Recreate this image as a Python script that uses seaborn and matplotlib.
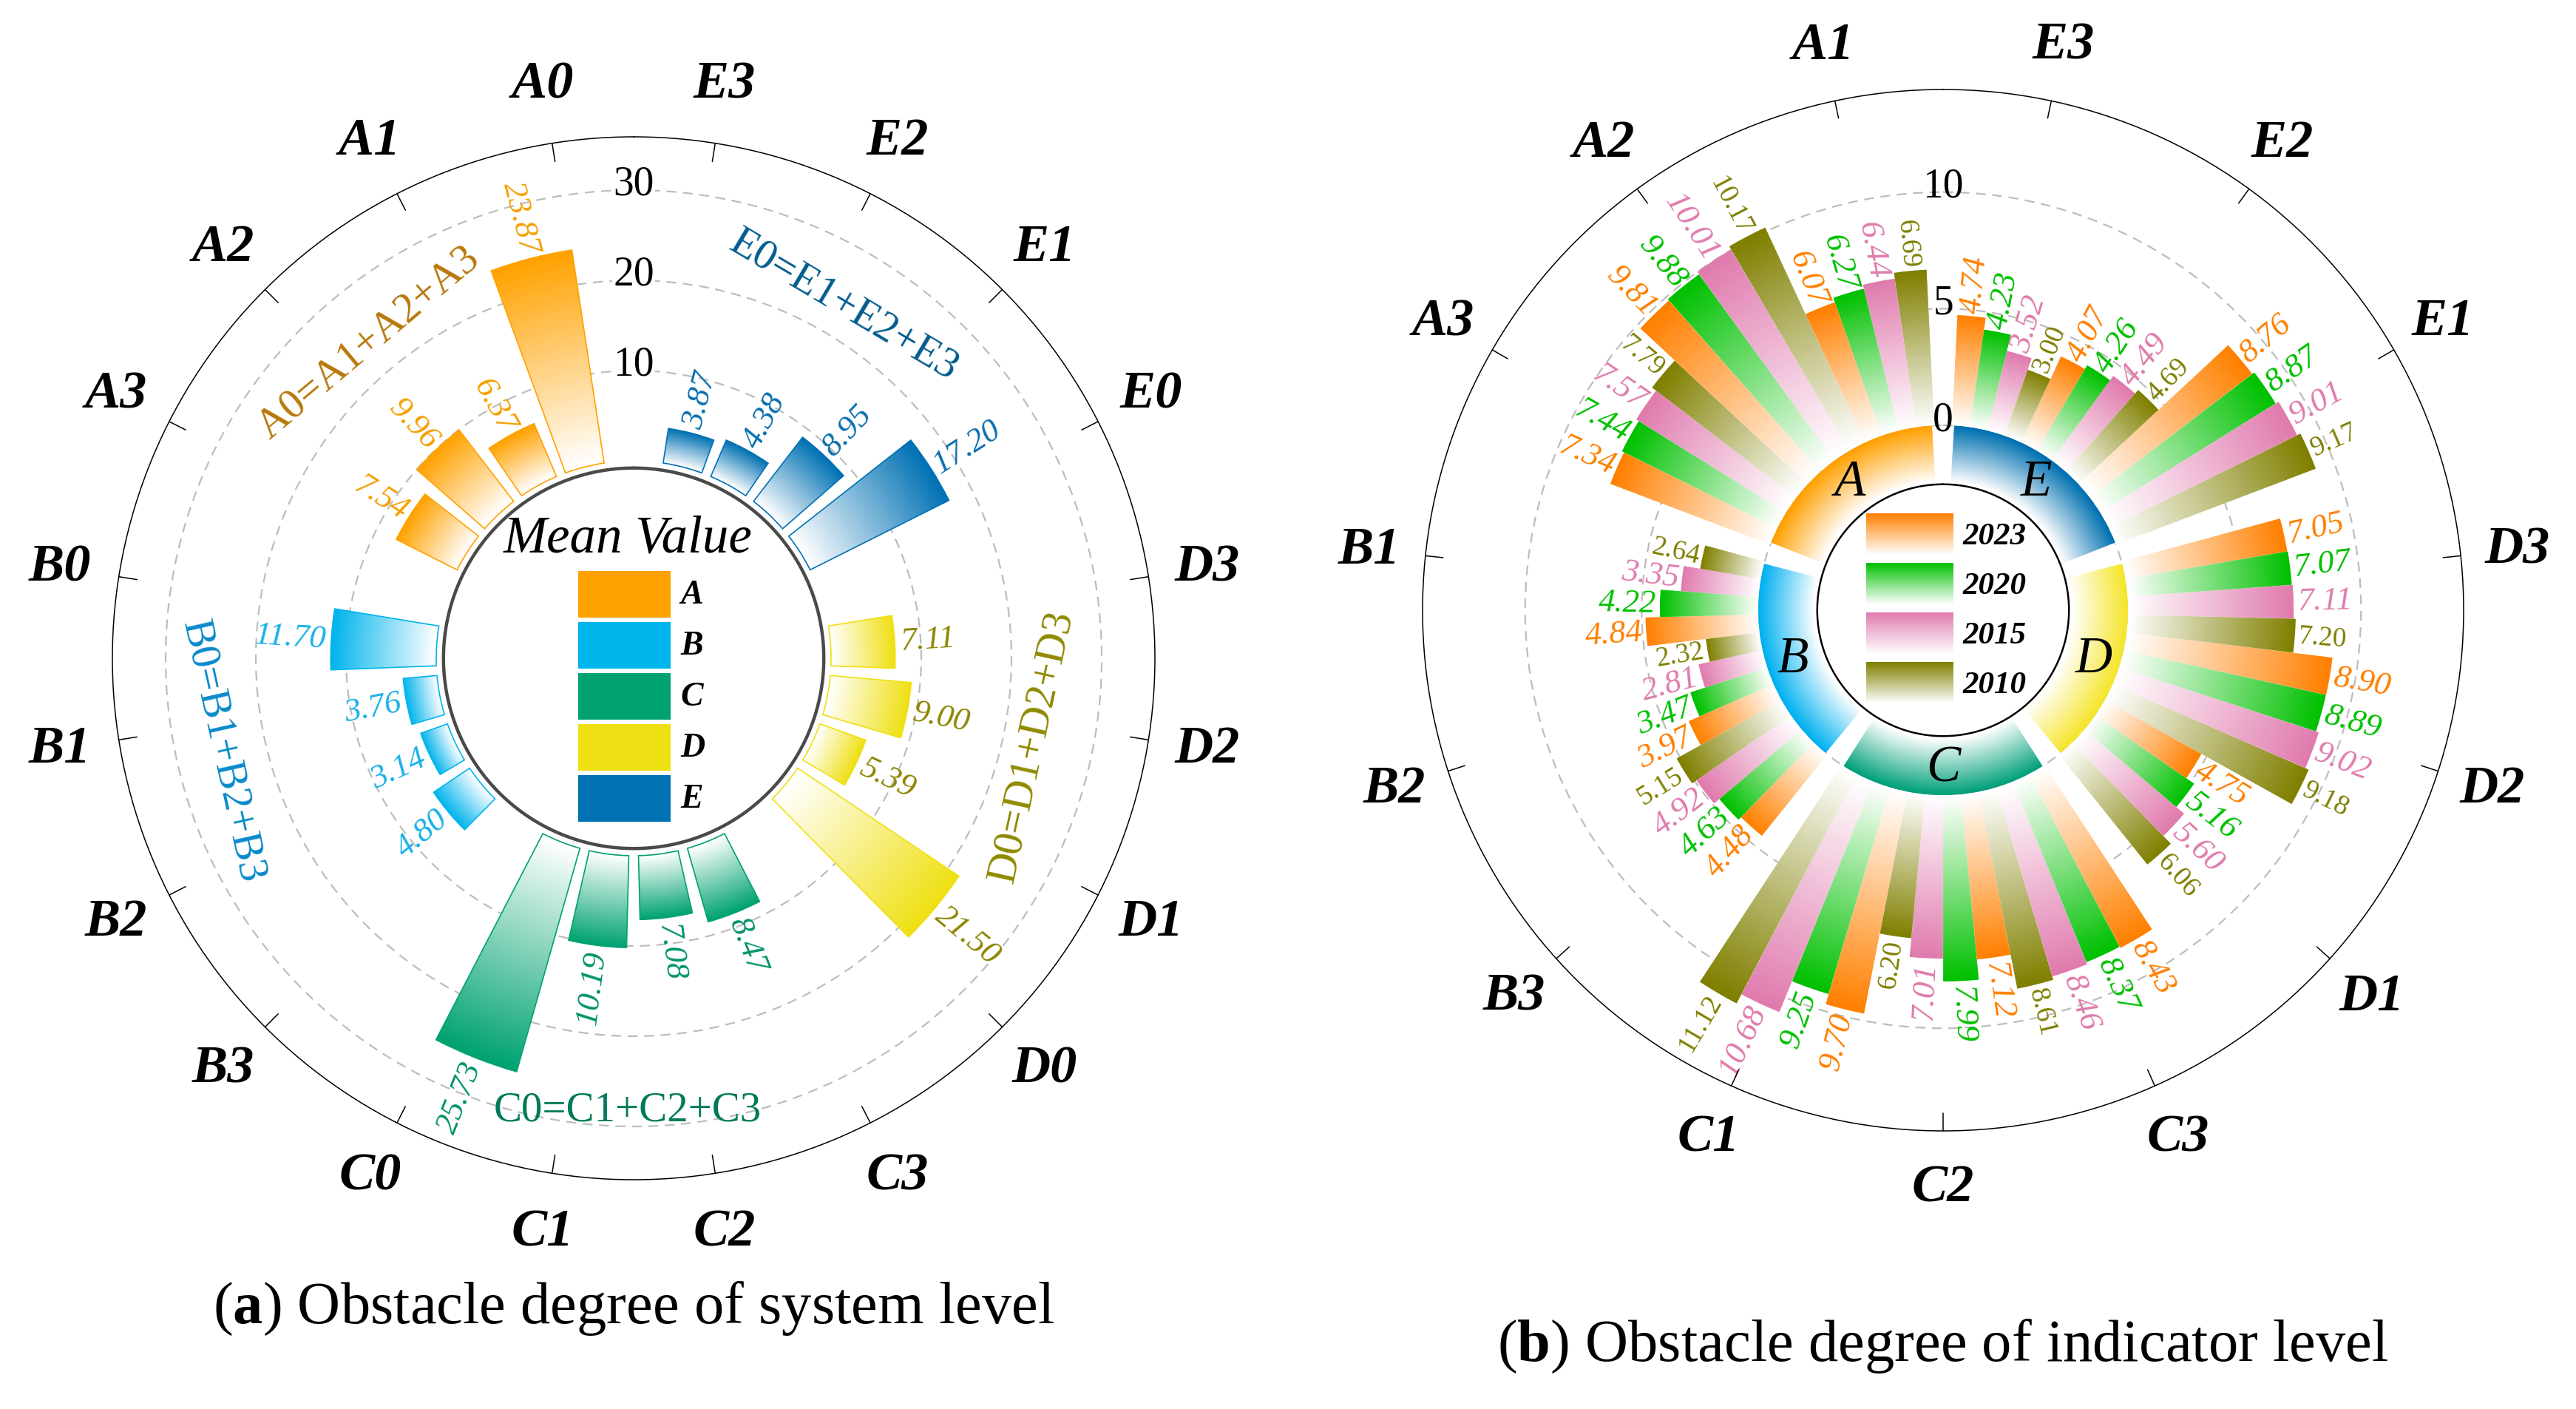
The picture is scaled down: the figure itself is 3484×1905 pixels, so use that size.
import numpy as np
import matplotlib
matplotlib.use("Agg")
import matplotlib.pyplot as plt
from matplotlib.patches import Rectangle
import seaborn as sns

# ------------------------------------------------------------------ data
# Panel (a): mean obstacle degree, system level
sys_codes = ["A0", "A1", "A2", "A3", "B0", "B1", "B2", "B3",
             "C0", "C1", "C2", "C3", "D0", "D1", "D2", "D3",
             "E0", "E1", "E2", "E3"]
sys_values = [23.87, 6.37, 9.96, 7.54, 11.70, 3.76, 3.14, 4.80,
              25.73, 10.19, 7.08, 8.47, 21.50, 5.39, 9.00, 7.11,
              17.20, 8.95, 4.38, 3.87]

# Panel (b): obstacle degree, indicator level
ind_codes = ["A1", "A2", "A3", "B1", "B2", "B3", "C1", "C2", "C3",
             "D1", "D2", "D3", "E1", "E2", "E3"]
years = ["2023", "2020", "2015", "2010"]
val_2023 = [6.07, 9.81, 7.34, 4.84, 3.97, 4.48, 9.70, 7.12, 8.43, 4.75, 8.90, 7.05, 8.76, 4.07, 4.74]
val_2020 = [6.27, 9.88, 7.44, 4.22, 3.47, 4.63, 9.25, 7.99, 8.37, 5.16, 8.89, 7.07, 8.87, 4.26, 4.23]
val_2015 = [6.44, 10.01, 7.57, 3.35, 2.81, 4.92, 10.68, 7.01, 8.46, 5.60, 9.02, 7.11, 9.01, 4.49, 3.52]
val_2010 = [6.69, 10.17, 7.79, 2.64, 2.32, 5.15, 11.12, 6.20, 8.61, 6.06, 9.18, 7.20, 9.17, 4.69, 3.00]

systems = ["A", "B", "C", "D", "E"]
outer_labels_a = ["A0", "E3", "E2", "E1", "E0", "D3", "D2", "D1", "D0", "C3",
                  "C2", "C1", "C0", "B3", "B2", "B1", "B0", "A3", "A2", "A1"]
outer_labels_b = ["A1", "E3", "E2", "E1", "D3", "D2", "D1", "C3",
                  "C2", "C1", "B3", "B2", "B1", "A3", "A2"]
formula_texts = {"A": "A0=A1+A2+A3", "B": "B0=B1+B2+B3", "C": "C0=C1+C2+C3",
                 "D": "D0=D1+D2+D3", "E": "E0=E1+E2+E3"}
radial_ticks_a = [10, 20, 30]
radial_ticks_b = [0, 5, 10]

# ------------------------------------------------------------------ style
sns.set_theme(style="white")
plt.rcParams["font.family"] = ["Liberation Serif", "DejaVu Serif"]
plt.rcParams["mathtext.fontset"] = "custom"
plt.rcParams["mathtext.rm"] = "Liberation Serif"
plt.rcParams["mathtext.bf"] = "Liberation Serif:bold"
plt.rcParams["mathtext.it"] = "Liberation Serif:italic"

sys_colors = dict(zip(systems, sns.color_palette(
    ["#FFA200", "#00B4EC", "#00A271", "#EFE014", "#0071B3"])))
sys_text_colors = {"A": "#F5A000", "B": "#18B2E8", "C": "#00936B",
                   "D": "#8E8600", "E": "#0A6FAE"}
formula_colors = {"A": "#B8780A", "B": "#0A8ACB", "C": "#007A5A",
                  "D": "#8F8A00", "E": "#005C8E"}
ring_colors = {"A": "#FFA000", "B": "#00B0F0", "C": "#00A07A",
               "D": "#F5E52A", "E": "#0070B0"}
year_colors = dict(zip(years, sns.color_palette(
    ["#FF8000", "#00C000", "#E07BAE", "#7F7F00"])))

W, H, DPI = 3484, 1906, 100
fig = plt.figure(figsize=(W / DPI, H / DPI), dpi=DPI)
fig.patch.set_facecolor("white")


def rect_for(cx, cy, R):
    return [(cx - R) / W, (H - cy - R) / H, 2 * R / W, 2 * R / H]


def make_polar(rect, rlim):
    ax = fig.add_axes(rect, projection="polar")
    ax.set_theta_zero_location("N")
    ax.set_theta_direction(-1)
    ax.set_ylim(*rlim)
    ax.set_xticks([])
    ax.xaxis.grid(False)
    ax.set_axisbelow(True)
    ax.spines["polar"].set_linewidth(1.1)
    ax.spines["polar"].set_color("black")
    ax.set_facecolor("white")
    return ax


def gradient_bars(ax, thetas_deg, tops, colors, width_deg, base=0.0, n=60, zorder=2):
    tops = np.asarray(tops, dtype=float)
    th = np.deg2rad(np.asarray(thetas_deg, dtype=float))
    pals = [sns.blend_palette(["white", c], n_colors=n) for c in colors]
    for i in range(n):
        bot = base + (tops - base) * i / n
        upper = np.minimum(base + (tops - base) * (i + 1.8) / n, tops)
        ax.bar(th, upper - bot, bottom=bot, width=np.deg2rad(width_deg),
               color=[p[i] for p in pals], linewidth=0, zorder=zorder)


def radial_label(ax, theta_cw, r, s, **kw):
    std = (90.0 - theta_cw) % 360.0
    if 90.0 < std < 270.0:
        rot, ha = std - 180.0, "right"
    else:
        rot, ha = std, "left"
    ax.text(np.deg2rad(theta_cw), r, s, rotation=rot, ha=ha, va="center",
            rotation_mode="anchor", **kw)


def outer_ring(ax, labels, start_cw, step, vmax, tick_len, lab_r):
    for k, lab in enumerate(labels):
        a = np.deg2rad(start_cw + step * k)
        ax.plot([a, a], [vmax - tick_len, vmax], color="black", lw=1.1,
                clip_on=False, zorder=6)
        ax.text(a, lab_r, lab, ha="center", va="center", fontsize=52,
                fontweight="bold", fontstyle="italic", color="black")


order_cw = ["E", "D", "C", "B", "A"]
circle_t = np.linspace(0, 2 * np.pi, 720)

# ================================================================== panel (a)
CXa, CYa, Ra = 857, 891, 705
VMIN_A, VMAX_A = -21.88, 35.9
axa = make_polar(rect_for(CXa, CYa, Ra), (VMIN_A, VMAX_A))
axa.set_yticks(radial_ticks_a)
axa.set_yticklabels([])
axa.yaxis.grid(True, color="#BDBDBD", linestyle=(0, (6, 4)), linewidth=1.6)

slot_a = 360.0 / 25
value_of = dict(zip(sys_codes, sys_values))
th_a, val_a, grp_a = [], [], []
k = 1
for g in order_cw:
    for j in [3, 2, 1, 0]:
        th_a.append(k * slot_a)
        val_a.append(value_of[f"{g}{j}"])
        grp_a.append(g)
        k += 1
    k += 1

bw_a = slot_a * 0.805
gradient_bars(axa, th_a, val_a, [sys_colors[g] for g in grp_a], bw_a, n=70)
axa.bar(np.deg2rad(th_a), val_a, width=np.deg2rad(bw_a), fill=False,
        edgecolor=[sys_colors[g] for g in grp_a], linewidth=1.2, zorder=3)
axa.plot(circle_t, np.full_like(circle_t, -0.8), color="#4A4A4A", lw=3.2, zorder=4)

for t, v, g in zip(th_a, val_a, grp_a):
    radial_label(axa, t, v + 0.6, f"{v:.2f}", fontsize=32, fontstyle="italic",
                 color=sys_text_colors[g], zorder=5)

for v in radial_ticks_a:
    axa.text(0, v + 0.7, str(v), ha="center", va="center", fontsize=40,
             color="black", zorder=5,
             bbox=dict(facecolor="white", edgecolor="none", pad=1))

# formula annotations (clockwise angle, radius, rotation)
formula_pos = {"A": (-40.0, 23.8, 40.0), "E": (30.7, 23.7, -30.7),
               "D": (102.4, 23.3, 77.6), "C": (180.8, 28.2, 0.0),
               "B": (257.4, 24.8, -77.4)}
for g, (tcw, r, rot) in formula_pos.items():
    axa.text(np.deg2rad(tcw), r, formula_texts[g], ha="center", va="center",
             rotation=rot, rotation_mode="anchor", fontsize=41,
             color=formula_colors[g], zorder=5)

outer_ring(axa, outer_labels_a, -9.0, 18.0, VMAX_A, 2.05, 42.5)

# legend inside the inner circle
ova = fig.add_axes(rect_for(CXa, CYa, Ra), zorder=10)
ova.set_xlim(-Ra, Ra)
ova.set_ylim(-Ra, Ra)
ova.axis("off")
ova.patch.set_alpha(0)
ova.text(-8, 162, "Mean Value", ha="center", va="center", fontsize=51,
         fontstyle="italic", color="black")
for i, g in enumerate(systems):
    y0 = 55 - 69 * i
    ova.add_patch(Rectangle((-75, y0), 125, 63, facecolor=sys_colors[g],
                            edgecolor="none"))
    ova.text(63, y0 + 31, g, ha="left", va="center", fontsize=33,
             fontstyle="italic", fontweight="bold", color="black")

fig.text(CXa / W, 1 - 1769 / H, r"($\mathbf{a}$) Obstacle degree of system level",
         ha="center", va="center", fontsize=58, color="black")

# ================================================================== panel (b)
CXb, CYb, Rb = 2628, 826, 704
VMIN_B, VMAX_B = -7.93, 14.4
axb = make_polar(rect_for(CXb, CYb, Rb), (VMIN_B, VMAX_B))
axb.set_yticks(radial_ticks_b)
axb.set_yticklabels([])
axb.yaxis.grid(True, color="#BDBDBD", linestyle=(0, (6, 4)), linewidth=1.6)

slot_b = 360.0 / 65
year_vals = dict(zip(years, [val_2023, val_2020, val_2015, val_2010]))
idx_of = {c: i for i, c in enumerate(ind_codes)}
th_b, val_b, yr_b = [], [], []
grp_center = {}
k = 1
for g in order_cw:
    k_start = k
    for j in [3, 2, 1]:
        code = f"{g}{j}"
        for y in years:
            th_b.append(k * slot_b)
            val_b.append(year_vals[y][idx_of[code]])
            yr_b.append(y)
            k += 1
    grp_center[g] = (k_start + k - 1) / 2.0 * slot_b
    k += 1

gradient_bars(axb, th_b, val_b, [year_colors[y] for y in yr_b], slot_b * 0.99, n=60)

# system ring
RING_IN = -2.45
ring_th = [grp_center[g] for g in order_cw]
gradient_bars(axb, ring_th, [0.0] * 5, [ring_colors[g] for g in order_cw],
              slot_b * 11.75, base=RING_IN, n=40, zorder=3)
axb.plot(circle_t, np.full_like(circle_t, -2.53), color="black", lw=1.8, zorder=4)
for g in order_cw:
    axb.text(np.deg2rad(grp_center[g]), -1.14, g, ha="center", va="center",
             fontsize=50, fontstyle="italic", color="black", zorder=5)

for t, v, y in zip(th_b, val_b, yr_b):
    if y == "2010":
        radial_label(axb, t, v + 0.15, f"{v:.2f}", fontsize=27,
                     color=year_colors[y], zorder=5)
    else:
        radial_label(axb, t, v + 0.15, f"{v:.2f}", fontsize=32,
                     fontstyle="italic", color=year_colors[y], zorder=5)

for v in radial_ticks_b:
    axb.text(0, v + 0.25, str(v), ha="center", va="center", fontsize=40,
             color="black", zorder=6)

outer_ring(axb, outer_labels_b, -12.0, 24.0, VMAX_B, 0.76, 16.83)

ovb = fig.add_axes(rect_for(CXb, CYb, Rb), zorder=10)
for i, y in enumerate(years):
    y0 = 75 - 67 * i
    c = np.array(year_colors[y])
    t = np.linspace(1, 0, 60)[:, None, None]
    grad = (1 - t) * np.ones((1, 1, 3)) + t * c[None, None, :]
    ovb.imshow(grad, extent=[-104, 14, y0, y0 + 56], aspect="auto",
               interpolation="bilinear", zorder=2)
    ovb.text(27, y0 + 25, y, ha="left", va="center", fontsize=31,
             fontstyle="italic", fontweight="bold", color="black")
ovb.set_xlim(-Rb, Rb)
ovb.set_ylim(-Rb, Rb)
ovb.axis("off")
ovb.patch.set_alpha(0)

fig.text(CXb / W, 1 - 1820 / H, r"($\mathbf{b}$) Obstacle degree of indicator level",
         ha="center", va="center", fontsize=58, color="black")

fig.savefig("out.png", dpi=DPI, facecolor="white")
